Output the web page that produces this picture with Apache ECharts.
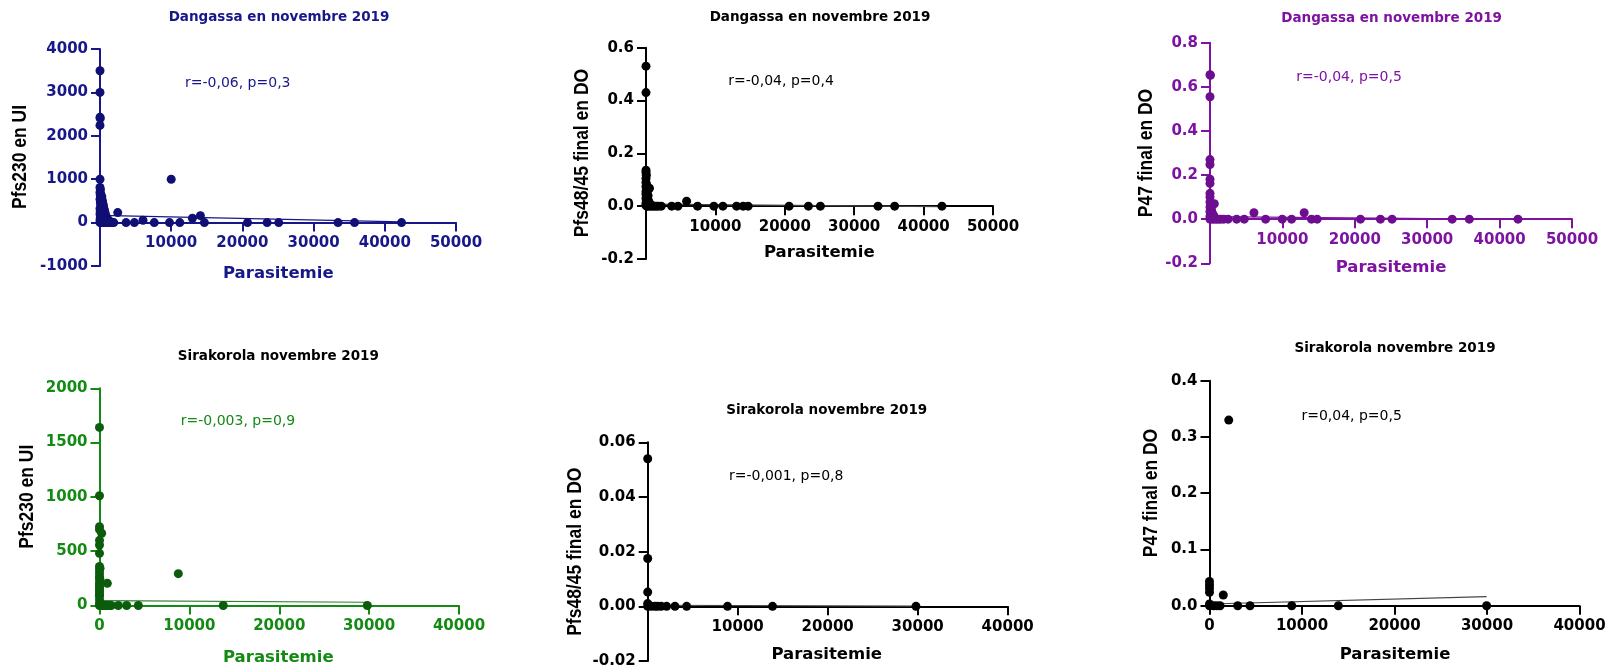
<!DOCTYPE html>
<html>
<head>
<meta charset="utf-8">
<script src="https://cdn.jsdelivr.net/npm/echarts@6/dist/echarts.min.js"></script>
<style>
html,body{margin:0;padding:0;background:#fff;}
#chart{width:1610px;height:668px;}
</style>
</head>
<body>
<div id="chart"></div>
<script>
// ---------- DATA ----------
const titles = ['Dangassa en novembre 2019','Dangassa en novembre 2019','Dangassa en novembre 2019',
                'Sirakorola novembre 2019','Sirakorola novembre 2019','Sirakorola novembre 2019'];
const yNames = ['Pfs230 en UI','Pfs48/45 final en DO','P47 final en DO',
                'Pfs230 en UI','Pfs48/45 final en DO','P47 final en DO'];
const xName = 'Parasitemie';
const stats = ['r=-0,06, p=0,3','r=-0,04, p=0,4','r=-0,04, p=0,5',
               'r=-0,003, p=0,9','r=-0,001, p=0,8','r=0,04, p=0,5'];

// y-axis ranges [min, max, interval, decimals]
const yRanges = [[-1000,4000,1000,0],[-0.2,0.6,0.2,1],[-0.2,0.8,0.2,1],
                 [0,2000,500,0],[-0.02,0.06,0.02,2],[0,0.4,0.1,1]];
// x-axis ranges [max, interval, showZeroLabel]
const xRanges = [[50000,10000,false],[50000,10000,false],[50000,10000,false],
                 [40000,10000,true],[40000,10000,false],[40000,10000,true]];

// Dangassa - Pfs230 (UI)
const danPfs230 = [[0,3500],[0,3000],[0,2430],[30,2400],[0,2240],[0,1000],[0,810],
 [60,760],[0,700],[100,660],[30,640],[150,620],[250,600],[80,580],[200,560],[0,540],[300,520],[120,500],
 [350,480],[50,460],[400,440],[200,420],[450,400],[100,380],[500,360],[300,340],[0,320],[550,320],[150,300],
 [600,290],[400,270],[50,260],[650,250],[250,240],[700,220],[0,200],[450,200],[750,180],[150,170],[800,160],
 [350,150],[900,130],[50,120],[550,120],[1000,100],[250,90],[700,80],[1100,70],[0,60],[400,50],[1200,50],
 [850,40],[1300,30],[100,25],[550,20],[1500,15],[300,10],[1000,10],[1700,5],[0,0],[150,0],[350,0],[600,0],
 [800,0],[1100,0],[1400,0],[1600,0],
 [2490,230],[10000,1000],[12980,100],[14100,160],[1930,0],[3660,0],[4830,0],[6040,55],[7620,0],[9760,0],
 [11210,0],[14660,0],[20720,0],[23470,0],[25100,0],[33430,0],[35750,0],[42350,0]];
// Dangassa - Pfs48/45 (DO)
const danPfs48 = [[0,0.53],[0,0.43],[0,0.136],[0,0.127],[50,0.117],[0,0.105],[0,0.09],[100,0.08],[0,0.075],
 [500,0.068],[50,0.065],[200,0.06],[0,0.055],[150,0.05],[0,0.045],[300,0.04],[100,0.035],[0,0.03],[250,0.025],
 [50,0.02],[400,0.018],[150,0.014],[0,0.01],[500,0.008],[300,0.006],[800,0.004],[0,0.003],[100,0],[300,0],
 [600,0],[900,0],[1200,0],[1500,0],[1800,0],[2200,0],[3700,0],[4600,0],[5850,0.019],[7430,0],[9780,0],
 [11080,0],[13050,0],[14000,0],[14720,0],[20620,0],[23400,0],[25130,0],[33430,0],[35830,0],[42640,0]];
// Dangassa - P47 (DO)
const danP47 = [[0,0.655],[60,0.652],[0,0.555],[0,0.27],[0,0.248],[0,0.181],[0,0.162],[0,0.117],[0,0.101],
 [600,0.07],[0,0.078],[100,0.065],[0,0.055],[200,0.045],[0,0.035],[300,0.03],[100,0.022],[500,0.018],
 [0,0.012],[200,0.008],[700,0.005],[0,0],[300,0],[600,0],[900,0],[1200,0],[1500,0],[1900,0],[2500,0],
 [3680,0],[4730,0],[6070,0.029],[7680,0],[9980,0],[11270,0],[13010,0.029],[14020,0],[14800,0],[20780,0],
 [23540,0],[25150,0],[33450,0],[35820,0],[42540,0]];
// Sirakorola - Pfs230 (UI)
const sirPfs230 = [[0,1640],[0,1011],[0,725],[0,700],[240,665],[0,600],[0,557],[0,480],[0,360],[60,343],
 [0,327],[0,296],[0,265],[0,250],[50,240],[0,215],[870,204],[0,190],[0,173],[8770,293],[0,150],[0,136],
 [0,110],[0,100],[0,85],[0,52],[0,20],[0,0],[200,0],[450,0],[650,0],[900,0],[1100,0],[1300,0],[2090,0],
 [3020,0],[4320,0],[13770,0],[29800,0]];
// Sirakorola - Pfs48/45 (DO)
const sirPfs48 = [[0,0.054],[0,0.0175],[0,0.0052],[0,0.001],[100,0.0005],[0,0],[400,0],[800,0],[1100,0],
 [1500,0],[2100,0],[3030,0],[4330,0],[8870,0],[13870,0],[29810,0]];
// Sirakorola - P47 (DO)
const sirP47 = [[2080,0.33],[0,0.043],[0,0.037],[0,0.031],[0,0.024],[1490,0.019],[0,0.003],[0,0],[450,0],
 [800,0],[1140,0],[3050,0],[4380,0],[8890,0],[13930,0],[29960,0]];

// linear fits (end points)
const fitDanPfs230 = [[0,165],[42400,15]];
const fitDanPfs48 = [[0,0.008],[42600,-0.002]];
const fitDanP47 = [[0,0.012],[42500,-0.001]];
const fitSirPfs230 = [[0,45],[29800,30]];
const fitSirPfs48 = [[0,0.0004],[29800,0.0001]];
const fitSirP47 = [[0,0.003],[29960,0.016]];

const seriesData = [danPfs230, danPfs48, danP47, sirPfs230, sirPfs48, sirP47];
const fitData = [fitDanPfs230, fitDanPfs48, fitDanP47, fitSirPfs230, fitSirPfs48, fitSirP47];

// ---------- STYLE / LAYOUT ----------
const NAVY = '#17178a', NAVY_PT = '#0f0f74';
const PURP = '#7e12a2', PURP_PT = '#6d0e90';
const GRN = '#138a13', GRN_PT = '#0b5c0b';
const BLK = '#000000';
const styles = [
  {axis: NAVY, pt: NAVY_PT, fit: NAVY, title: NAVY, stat: NAVY, xname: NAVY},
  {axis: BLK, pt: BLK, fit: '#444', title: BLK, stat: BLK, xname: BLK},
  {axis: PURP, pt: PURP_PT, fit: PURP, title: PURP, stat: PURP, xname: PURP},
  {axis: GRN, pt: GRN_PT, fit: '#2f7f2f', title: BLK, stat: GRN, xname: GRN},
  {axis: BLK, pt: BLK, fit: '#444', title: BLK, stat: BLK, xname: BLK},
  {axis: BLK, pt: BLK, fit: '#444', title: BLK, stat: BLK, xname: BLK}
];
const grids = [
  {left: 100, top: 49, width: 356, height: 217},
  {left: 646, top: 47.7, width: 347, height: 211.3},
  {left: 1210, top: 42.7, width: 362, height: 220.6},
  {left: 99.5, top: 388.3, width: 359.5, height: 217.2},
  {left: 647.7, top: 442.3, width: 360, height: 218.7},
  {left: 1209.5, top: 380.7, width: 370, height: 225}
];
const titlePos = [[279,17],[820,17],[1391.6,18],[278.3,356.7],[826.7,410.7],[1395,348.3]];
const statPos = [[185,83],[728.3,81],[1296.3,77],[180.8,421.7],[729,476],[1301.4,416]];
const yNamePos = [[20.7,157],[582.7,153],[1145.9,153],[27.6,496.7],[575,551.7],[1151.7,493]];
const xNamePos = [[278.3,274],[819.3,253],[1391,268],[278.3,658],[826.7,654.3],[1395,655]];

// x axis sits on y = 0: shift it up from the grid bottom by the share of the negative range
const xOffsets = yRanges.map((r, i) => -grids[i].height * (0 - r[0]) / (r[1] - r[0]));

const TICK_FONT = 'DejaVu Sans';
const option = {
  animation: false,
  backgroundColor: '#ffffff',
  grid: grids.map(g => Object.assign({containLabel: false, outerBoundsMode: 'none'}, g)),
  xAxis: xRanges.map((r, i) => ({
    gridIndex: i, type: 'value', min: 0, max: r[0], interval: r[1], position: 'bottom',
    offset: xOffsets[i],
    axisLine: {show: true, onZero: false, lineStyle: {color: styles[i].axis, width: 2}},
    axisTick: {show: true, length: 9, lineStyle: {color: styles[i].axis, width: 2}},
    splitLine: {show: false},
    axisLabel: {
      color: styles[i].axis, fontFamily: TICK_FONT, fontWeight: 'bold', fontSize: 15, margin: 13,
      formatter: v => (v === 0 && !r[2]) ? '' : String(v)
    }
  })),
  yAxis: yRanges.map((r, i) => ({
    gridIndex: i, type: 'value', min: r[0], max: r[1], interval: r[2],
    axisLine: {show: true, onZero: false, lineStyle: {color: styles[i].axis, width: 2}},
    axisTick: {show: true, length: 9, lineStyle: {color: styles[i].axis, width: 2}},
    splitLine: {show: false},
    axisLabel: {
      color: styles[i].axis, fontFamily: TICK_FONT, fontWeight: 'bold', fontSize: 15, margin: 12,
      formatter: v => Number(v).toFixed(r[3])
    }
  })),
  series: [].concat(
    fitData.map((d, i) => ({
      type: 'line', xAxisIndex: i, yAxisIndex: i, data: d, showSymbol: false, symbol: 'none',
      lineStyle: {color: styles[i].fit, width: 1.2}, z: 3, silent: true
    })),
    seriesData.map((d, i) => ({
      type: 'scatter', xAxisIndex: i, yAxisIndex: i, data: d, symbol: 'circle', symbolSize: 9,
      itemStyle: {color: styles[i].pt, opacity: 1}, z: 4
    }))
  ),
  graphic: [].concat(
    titles.map((t, i) => ({
      type: 'text', x: titlePos[i][0], y: titlePos[i][1], z: 10,
      style: {text: t, fill: styles[i].title, font: 'bold 13.5px "DejaVu Sans"', align: 'center', verticalAlign: 'middle'}
    })),
    stats.map((t, i) => ({
      type: 'text', x: statPos[i][0], y: statPos[i][1], z: 10,
      style: {text: t, fill: styles[i].stat, font: '14px "DejaVu Sans"', align: 'left', verticalAlign: 'middle'}
    })),
    yNames.map((t, i) => ({
      type: 'text', x: yNamePos[i][0], y: yNamePos[i][1], rotation: Math.PI / 2, scaleY: 1.2, z: 10,
      style: {text: t, fill: BLK, font: 'bold 17.5px "Liberation Sans"', align: 'center', verticalAlign: 'middle'}
    })),
    xNamePos.map((p, i) => ({
      type: 'text', x: p[0], y: p[1], z: 10,
      style: {text: xName, fill: styles[i].xname, font: 'bold 16.5px "DejaVu Sans"', align: 'center', verticalAlign: 'middle'}
    }))
  )
};
const chart = echarts.init(document.getElementById('chart'), null, {renderer: 'canvas'});
chart.setOption(option);
</script>
</body>
</html>
